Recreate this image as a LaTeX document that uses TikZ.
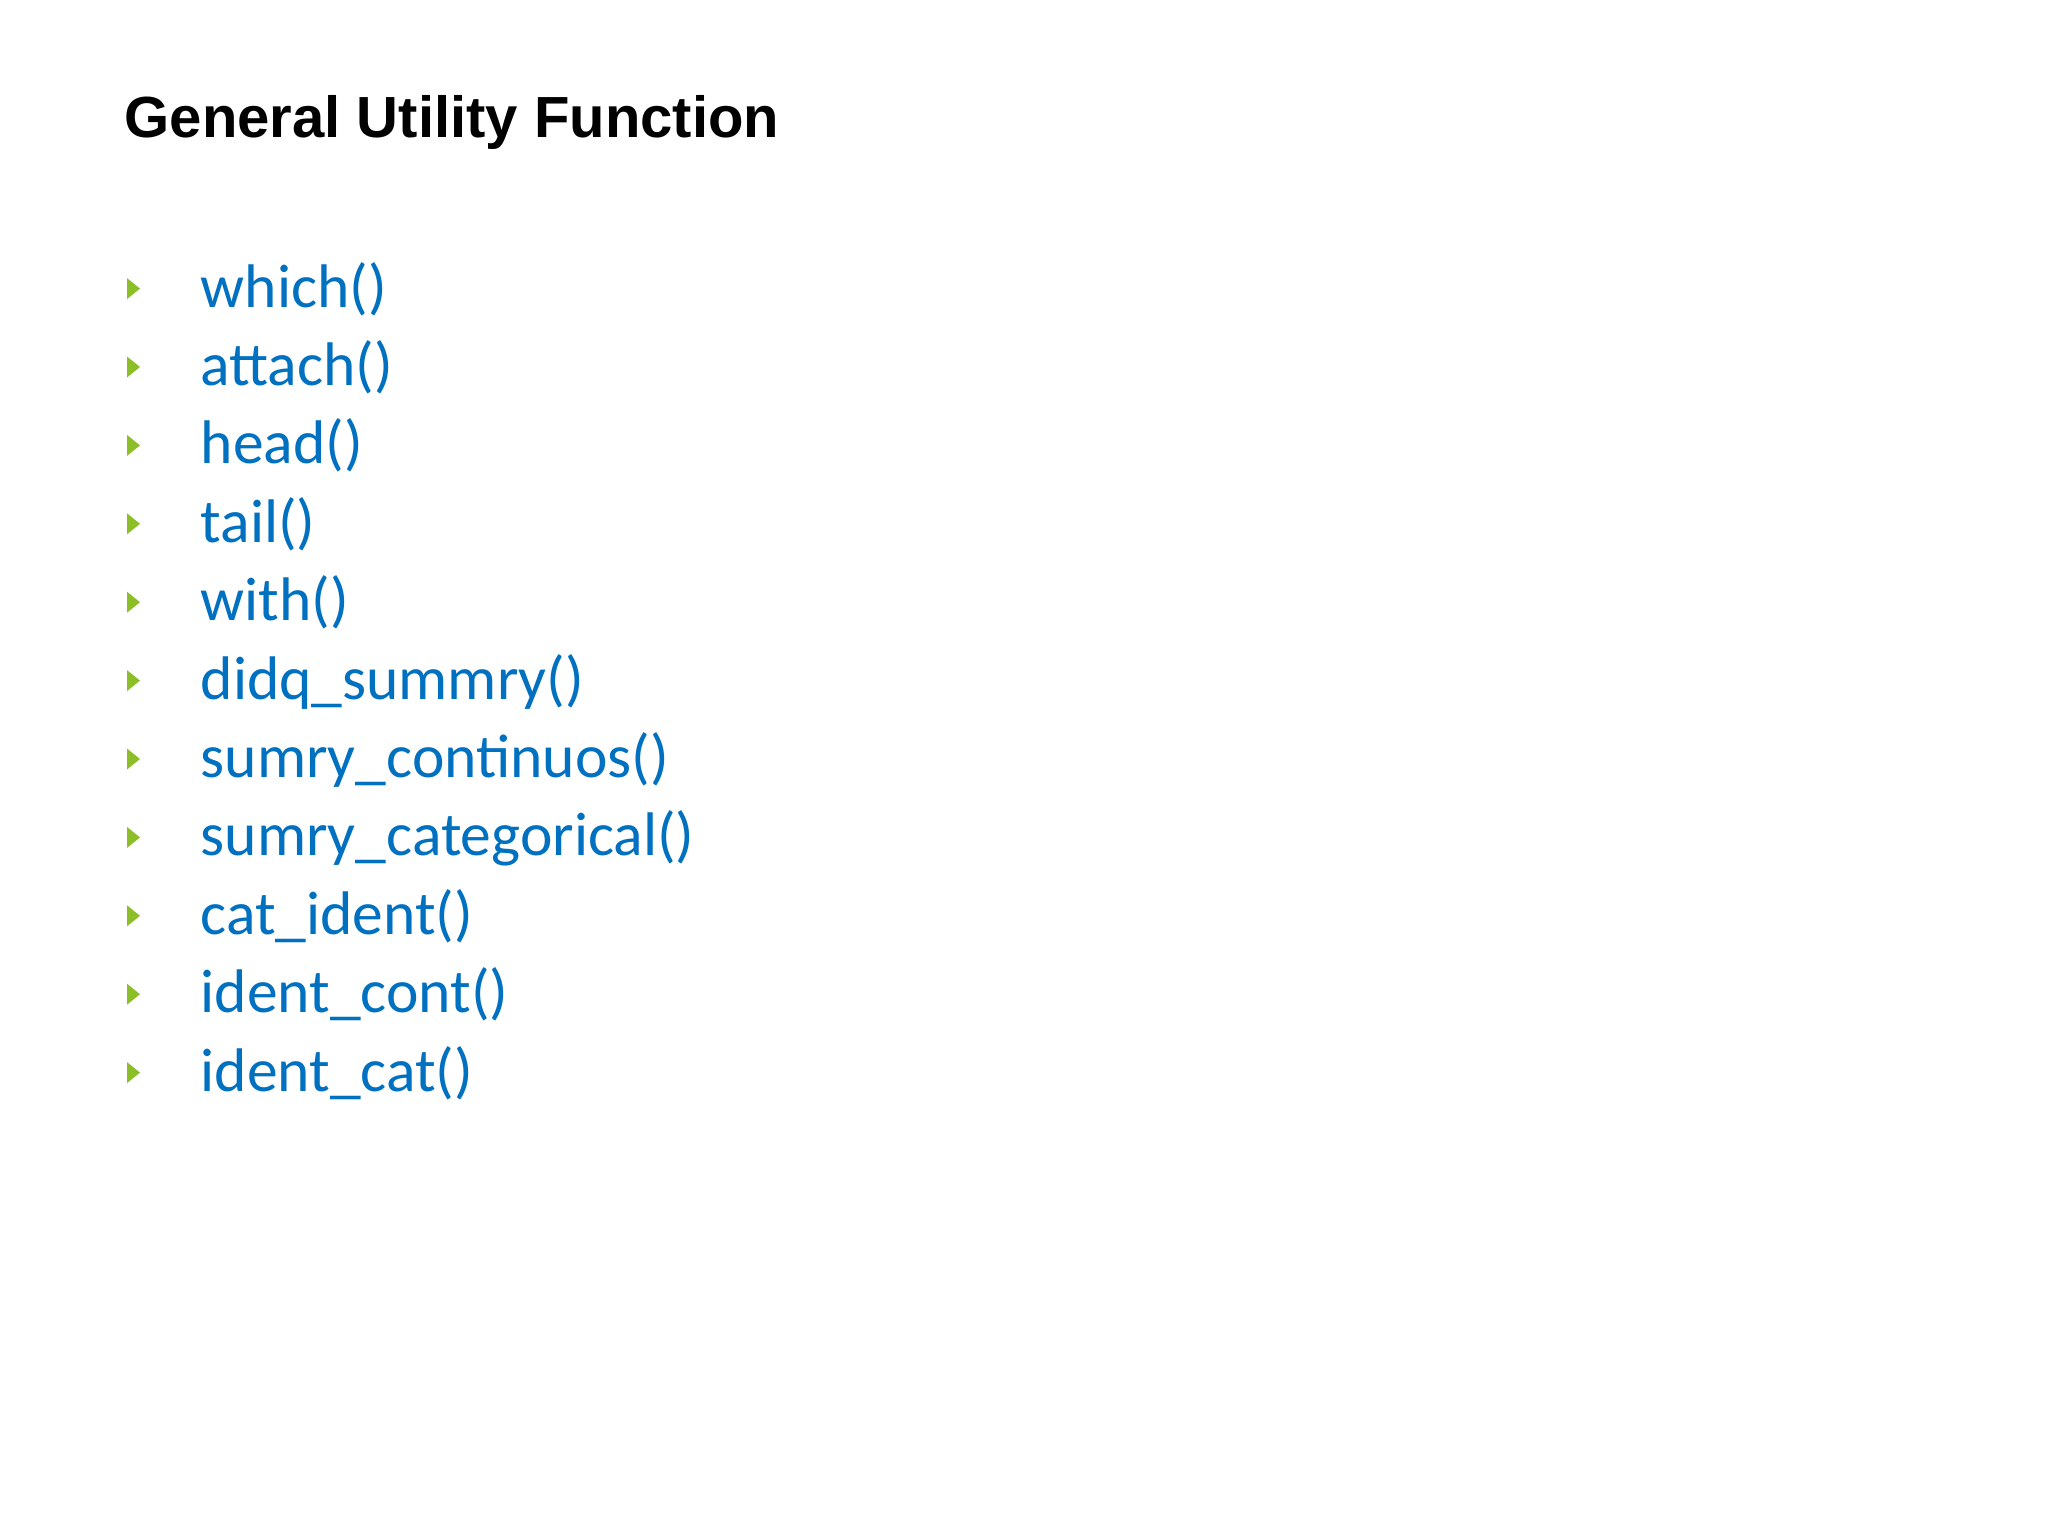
\documentclass[tikz,border=0pt]{standalone}
\usepackage{fontspec}
\setmainfont{Carlito}
\newfontfamily\titlefont{Liberation Sans}
\definecolor{itemblue}{RGB}{0,112,192}
\definecolor{bulgreen}{RGB}{140,190,40}
\begin{document}
\begin{tikzpicture}[x=0.01cm,y=-0.01cm,
  item/.style={anchor=base west,inner sep=0pt,text=itemblue,font=\fontsize{17.5pt}{20pt}\selectfont},
  bul/.style={fill=bulgreen,draw=none}]
\useasboundingbox (0,0) rectangle (2048,1536);
\fill[white] (0,0) rectangle (2048,1536);
\node[anchor=base west,inner sep=0pt,font=\titlefont\bfseries\fontsize{16.5pt}{20pt}\selectfont] (title) at (124,137) {General Utility Function};
\foreach \t [count=\i from 0] in {which(),attach(),head(),tail(),with(),didq\_summry(),sumry\_continuos(),sumry\_categorical(),cat\_ident(),ident\_cont(),ident\_cat()}{
  \pgfmathsetmacro{\yy}{307+78.4*\i}
  \pgfmathsetmacro{\yc}{288.6+78.4*\i}
  \node[item] (it\i) at (200,\yy) {\t};
  \fill[bul] (127,\yc-10.5) -- (140,\yc) -- (127,\yc+10.5) -- cycle;
}
\end{tikzpicture}
\end{document}
